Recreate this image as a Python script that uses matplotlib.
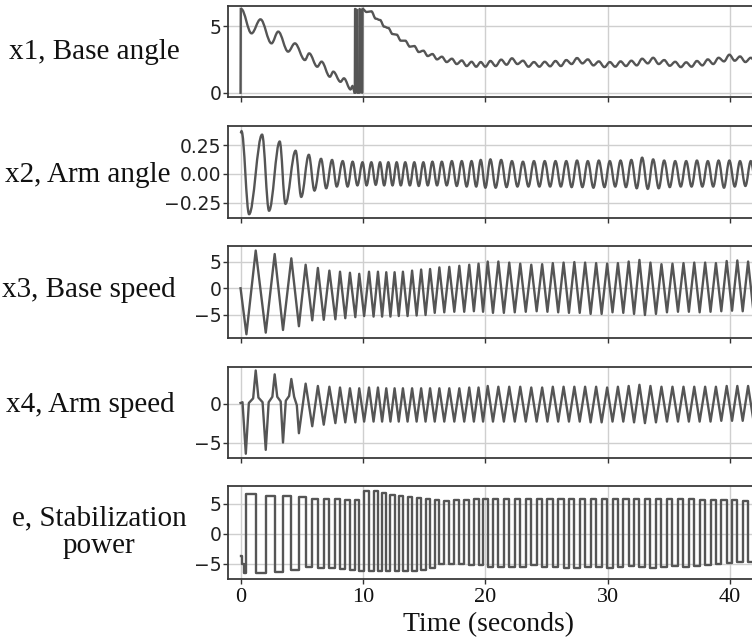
import numpy as np
import matplotlib
matplotlib.use("Agg")
import matplotlib.pyplot as plt
from matplotlib.path import Path
from matplotlib.patches import PathPatch

# turning points, (time s, value)
X1_A = [(0.05, 6.28), (0.90, 4.45), (1.63, 5.50), (2.53, 3.70), (3.08, 4.58), (3.89, 3.08),
        (4.44, 3.70), (5.26, 2.45), (5.61, 2.95), (6.27, 1.95), (6.62, 2.33), (7.30, 1.20),
        (7.58, 1.58), (8.17, 0.82), (8.45, 1.08), (8.99, 0.25), (9.15, 0.50), (9.34, 0.00)]
X1_WRAP = [(0.00, 0.00), (0.02, 6.28), None,
           (9.34, 0.00), (9.36, 6.28), (9.52, 6.20), (9.53, 0.00), (9.72, 0.00), (9.73, 6.28),
           (9.82, 6.15), (9.83, 0.05), (9.95, 0.00), (9.97, 6.28)]
X1_B = [(9.97, 6.28), (10.30, 6.05), (10.69, 6.10), (11.05, 5.55), (11.40, 5.45), (11.74, 4.95),
        (12.08, 4.85), (12.42, 4.40), (12.76, 4.35), (13.10, 3.90), (13.46, 3.90), (13.84, 3.45),
        (14.20, 3.50), (14.57, 3.05), (14.94, 3.15), (15.30, 2.75), (15.68, 2.90), (16.06, 2.50),
        (16.45, 2.70), (16.85, 2.30), (17.27, 2.55), (17.67, 2.15), (18.08, 2.42), (18.48, 2.00),
        (18.88, 2.32), (19.26, 1.95), (19.63, 2.30), (20.01, 1.95), (20.42, 2.38), (20.85, 2.00),
        (21.30, 2.48), (21.74, 2.10), (22.18, 2.58), (22.63, 2.15), (23.08, 2.40), (23.53, 1.95),
        (23.98, 2.30), (24.42, 1.95), (24.86, 2.32), (25.30, 1.98), (25.74, 2.38), (26.18, 2.00),
        (26.62, 2.45), (27.06, 2.15), (27.50, 2.60), (27.94, 2.20), (28.38, 2.50), (28.84, 2.05),
        (29.28, 2.35), (29.74, 1.92), (30.18, 2.30), (30.62, 1.95), (31.06, 2.35), (31.50, 2.00),
        (31.94, 2.40), (32.38, 2.05), (32.82, 2.55), (33.28, 2.20), (33.72, 2.62), (34.18, 2.15),
        (34.62, 2.45), (35.08, 2.02), (35.52, 2.32), (35.98, 1.92), (36.42, 2.28), (36.86, 1.95),
        (37.30, 2.38), (37.74, 2.05), (38.19, 2.50), (38.63, 2.15), (39.07, 2.62), (39.51, 2.35),
        (39.95, 2.85), (40.39, 2.40), (40.82, 2.72), (41.26, 2.30), (41.70, 2.62), (42.14, 2.25),
        (42.58, 2.55), (43.02, 2.20)]

X2 = [(0.00, 0.35), (0.08, 0.37), (0.70, -0.35), (1.76, 0.34), (2.33, -0.32), (3.20, 0.28),
      (3.67, -0.26), (4.50, 0.20), (4.96, -0.20), (5.58, 0.165), (6.04, -0.145), (6.58, 0.13),
      (7.00, -0.125), (7.48, 0.12), (7.86, -0.11), (8.35, 0.11), (8.75, -0.11), (9.16, 0.105),
      (9.55, -0.10), (9.97, 0.10), (10.30, -0.10), (10.69, 0.10), (11.05, -0.095), (11.40, 0.10),
      (11.74, -0.10), (12.08, 0.10), (12.42, -0.10), (12.76, 0.10), (13.10, -0.10), (13.46, 0.10),
      (13.84, -0.10), (14.20, 0.10), (14.57, -0.105), (14.94, 0.10), (15.30, -0.10), (15.68, 0.105),
      (16.06, -0.10), (16.45, 0.105), (16.85, -0.10), (17.27, 0.11), (17.67, -0.105), (18.08, 0.11),
      (18.48, -0.11), (18.88, 0.11), (19.26, -0.11), (19.63, 0.12), (20.01, -0.12), (20.42, 0.125),
      (20.85, -0.12), (21.30, 0.12), (21.74, -0.115), (22.18, 0.11), (22.63, -0.11), (23.08, 0.105),
      (23.53, -0.11), (23.98, 0.11), (24.42, -0.11), (24.86, 0.11), (25.30, -0.11), (25.74, 0.11),
      (26.18, -0.11), (26.62, 0.11), (27.06, -0.115), (27.50, 0.115), (27.94, -0.115), (28.38, 0.11),
      (28.84, -0.12), (29.28, 0.115), (29.74, -0.115), (30.18, 0.11), (30.62, -0.11), (31.06, 0.115),
      (31.50, -0.115), (31.94, 0.12), (32.38, -0.125), (32.82, 0.14), (33.28, -0.13), (33.72, 0.125),
      (34.18, -0.125), (34.62, 0.115), (35.08, -0.115), (35.52, 0.11), (35.98, -0.11), (36.42, 0.11),
      (36.86, -0.11), (37.30, 0.115), (37.74, -0.11), (38.19, 0.11), (38.63, -0.11), (39.07, 0.115),
      (39.51, -0.12), (39.95, 0.115), (40.39, -0.11), (40.82, 0.11), (41.26, -0.105), (41.70, 0.11),
      (42.14, -0.11), (42.58, 0.11), (43.02, -0.11)]

X3 = [(0.00, 0.0), (0.48, -8.6), (1.24, 7.05), (2.06, -8.3), (2.79, 6.4), (3.47, -7.8), (4.15, 5.6),
      (4.77, -7.1), (5.32, 4.4), (5.86, -6.0), (6.32, 3.8), (6.80, -5.9), (7.26, 3.3), (7.75, -5.8),
      (8.13, 3.1), (8.56, -5.6), (8.94, 2.9), (9.38, -5.4), (9.70, 2.7), (10.10, -5.2), (10.50, 3.1),
      (10.87, -5.3), (11.23, 3.1), (11.57, -5.3), (11.91, 3.0), (12.25, -5.3), (12.59, 3.0),
      (12.93, -5.2), (13.27, 3.1), (13.65, -5.2), (14.02, 3.3), (14.39, -5.1), (14.76, 3.5),
      (15.12, -5.0), (15.49, 3.6), (15.87, -4.6), (16.25, 3.9), (16.65, -4.5), (17.06, 4.0),
      (17.47, -4.4), (17.88, 4.2), (18.28, -4.4), (18.69, 4.4), (19.07, -4.3), (19.45, 4.6),
      (19.82, -4.4), (20.20, 5.0), (20.63, -4.6), (21.07, 5.0), (21.52, -4.6), (21.96, 4.8),
      (22.41, -4.5), (22.86, 4.6), (23.31, -4.4), (23.76, 4.4), (24.20, -4.3), (24.65, 4.5),
      (25.08, -4.4), (25.52, 4.7), (25.96, -4.5), (26.40, 4.8), (26.84, -4.6), (27.28, 4.9),
      (27.72, -4.6), (28.16, 4.8), (28.61, -4.8), (29.06, 4.7), (29.51, -4.8), (29.96, 4.6),
      (30.40, -4.5), (30.84, 4.7), (31.28, -4.6), (31.72, 5.0), (32.16, -4.8), (32.60, 5.3),
      (33.05, -5.0), (33.50, 4.8), (33.95, -4.8), (34.40, 4.5), (34.85, -4.5), (35.30, 4.6),
      (35.75, -4.4), (36.20, 4.7), (36.64, -4.4), (37.08, 4.8), (37.52, -4.5), (37.97, 4.8),
      (38.41, -4.4), (38.85, 4.7), (39.29, -4.3), (39.73, 5.1), (40.17, -4.2), (40.60, 5.2),
      (41.04, -4.3), (41.48, 5.0), (41.92, -4.4), (42.36, 4.8), (42.80, -4.4), (43.24, 4.8)]

X4 = [(0.00, 0.1), (0.16, 0.2), (0.43, -6.45), (0.68, 0.1), (1.03, 0.7), (1.24, 4.3), (1.46, 0.8),
      (1.80, 0.2), (2.06, -5.95), (2.30, 0.2), (2.60, 0.9), (2.79, 3.8), (3.00, 0.9), (3.28, 0.3),
      (3.47, -5.0), (3.70, 0.4), (3.97, 1.0), (4.15, 3.2), (4.38, 0.9), (4.60, -0.2), (4.77, -3.8),
      (5.32, 2.6), (5.86, -2.9), (6.32, 2.3), (6.80, -2.7), (7.26, 2.2), (7.75, -2.5), (8.13, 2.1),
      (8.56, -2.4), (8.94, 2.0), (9.38, -2.4), (9.70, 2.0), (10.10, -2.3), (10.50, 2.1),
      (10.87, -2.3), (11.23, 2.1), (11.57, -2.3), (11.91, 2.0), (12.25, -2.3), (12.59, 2.0),
      (12.93, -2.3), (13.27, 2.0), (13.65, -2.3), (14.02, 2.0), (14.39, -2.3), (14.76, 2.0),
      (15.12, -2.3), (15.49, 2.0), (15.87, -2.3), (16.25, 2.0), (16.65, -2.3), (17.06, 2.0),
      (17.47, -2.3), (17.88, 2.0), (18.28, -2.3), (18.69, 2.1), (19.07, -2.3), (19.45, 2.1),
      (19.82, -2.3), (20.20, 2.3), (20.63, -2.3), (21.07, 2.2), (21.52, -2.3), (21.96, 2.2),
      (22.41, -2.3), (22.86, 2.2), (23.31, -2.3), (23.76, 2.1), (24.20, -2.3), (24.65, 2.1),
      (25.08, -2.3), (25.52, 2.2), (25.96, -2.3), (26.40, 2.2), (26.84, -2.3), (27.28, 2.2),
      (27.72, -2.3), (28.16, 2.2), (28.61, -2.4), (29.06, 2.2), (29.51, -2.4), (29.96, 2.1),
      (30.40, -2.3), (30.84, 2.2), (31.28, -2.3), (31.72, 2.3), (32.16, -2.4), (32.60, 2.45),
      (33.05, -2.5), (33.50, 2.3), (33.95, -2.4), (34.40, 2.2), (34.85, -2.3), (35.30, 2.2),
      (35.75, -2.3), (36.20, 2.2), (36.64, -2.3), (37.08, 2.2), (37.52, -2.3), (37.97, 2.2),
      (38.41, -2.3), (38.85, 2.2), (39.29, -2.2), (39.73, 2.3), (40.17, -2.2), (40.60, 2.3),
      (41.04, -2.2), (41.48, 2.3), (41.92, -2.2), (42.36, 2.2), (42.80, -2.2), (43.24, 2.2)]

# e switches level (time, level after the switch)
E = [(0.00, -3.8), (0.10, -5.0), (0.28, -6.6), (0.48, 6.6), (1.24, -6.5), (2.06, 6.4), (2.79, -6.4),
     (3.47, 6.3), (4.15, -6.1), (4.77, 6.1), (5.32, -5.6), (5.86, 5.9), (6.32, -5.8), (6.80, 5.8),
     (7.26, -5.8), (7.75, 5.8), (8.13, -5.9), (8.56, 5.7), (8.94, -6.0), (9.38, 5.6), (9.70, -6.3),
     (10.10, 7.2), (10.50, -6.3), (10.87, 7.1), (11.23, -6.3), (11.57, 6.8), (11.91, -6.3),
     (12.25, 6.5), (12.59, -6.3), (12.93, 6.3), (13.27, -6.2), (13.65, 6.2), (14.02, -6.2),
     (14.39, 6.0), (14.76, -6.0), (15.12, 5.9), (15.49, -5.8), (15.87, 5.6), (16.25, -5.0),
     (16.65, 5.5), (17.06, -5.1), (17.47, 5.6), (17.88, -5.0), (18.28, 5.7), (18.69, -5.2),
     (19.07, 5.8), (19.45, -5.3), (19.82, 5.8), (20.20, -5.5), (20.63, 5.9), (21.07, -5.6),
     (21.52, 5.9), (21.96, -5.6), (22.41, 5.9), (22.86, -5.5), (23.31, 5.8), (23.76, -5.3),
     (24.20, 5.8), (24.65, -5.5), (25.08, 5.8), (25.52, -5.6), (25.96, 5.9), (26.40, -5.7),
     (26.84, 5.9), (27.28, -5.8), (27.72, 5.9), (28.16, -5.6), (28.61, 5.9), (29.06, -5.5),
     (29.51, 5.8), (29.96, -5.7), (30.40, 5.8), (30.84, -5.6), (31.28, 5.8), (31.72, -5.4),
     (32.16, 5.9), (32.60, -5.6), (33.05, 5.9), (33.50, -5.7), (33.95, 5.9), (34.40, -5.5),
     (34.85, 5.8), (35.30, -5.4), (35.75, 5.8), (36.20, -5.5), (36.64, 5.8), (37.08, -5.4),
     (37.52, 5.7), (37.97, -5.3), (38.41, 5.7), (38.85, -5.1), (39.29, 5.6), (39.73, -4.9),
     (40.17, 5.6), (40.60, -4.7), (41.04, 5.5), (41.48, -4.8), (41.92, 5.5), (42.36, -4.8),
     (42.80, 5.5), (43.24, -4.8)]

LABELS = ["x1, Base angle", "x2, Arm angle", "x3, Base speed", "x4, Arm speed",
          "e, Stabilization\npower"]
YTICKS = [[0, 5], [-0.25, 0.0, 0.25], [-5, 0, 5], [-5, 0], [-5, 0, 5]]
YLIMS = [(-0.32, 6.5), (-0.383, 0.415), (-9.3, 7.9), (-7.0, 4.75), (-7.5, 8.0)]

# layout (figure fractions, measured on the reference)
BOTTOMS = [0.8477, 0.6578, 0.4694, 0.2810, 0.0918]
HEIGHTS = [0.1429, 0.1444, 0.1444, 0.1429, 0.1452]
LAB_X = [-0.248, -0.259, -0.257, -0.255, -0.239]
LAB_Y = [0.5, 0.47, 0.52, 0.58, 0.5]

LC = "#555555"
SERIF = "Liberation Serif"


def smooth(ax, pts):
    # cubic pieces with flat tangents at every turning point
    t, v = np.array(pts).T
    verts, codes = [(t[0], v[0])], [Path.MOVETO]
    for i in range(1, len(t)):
        d = (t[i] - t[i - 1]) * 0.364
        verts += [(t[i - 1] + d, v[i - 1]), (t[i] - d, v[i]), (t[i], v[i])]
        codes += [Path.CURVE4] * 3
    ax.add_patch(PathPatch(Path(verts, codes), fill=False, ec=LC, lw=1.7, zorder=3))


fig = plt.figure(figsize=(7.52, 6.37), dpi=100)
axes = [fig.add_axes([0.3036, b, 0.72, h]) for b, h in zip(BOTTOMS, HEIGHTS)]

# x1
smooth(axes[0], X1_A)
smooth(axes[0], X1_B)
wt = [np.nan if p is None else p[0] for p in X1_WRAP]
wv = [np.nan if p is None else p[1] for p in X1_WRAP]
axes[0].plot(wt, wv, color=LC, lw=1.7, zorder=3)
# x2
smooth(axes[1], X2)
# x3, x4
for ax, pts in ((axes[2], X3), (axes[3], X4)):
    t, v = np.array(pts).T
    ax.plot(t, v, color=LC, lw=1.7, zorder=3)
# e
et, ev = np.array(E).T
axes[4].step(et, ev, where="post", color=LC, lw=1.7, zorder=3)

for i, ax in enumerate(axes):
    ax.set_xlim(-1.0, 43.25)
    ax.set_ylim(*YLIMS[i])
    ax.set_xticks([0, 10, 20, 30, 40])
    ax.set_yticks(YTICKS[i])
    if i == 1:
        ax.set_yticklabels(["\u22120.25", "0.00", "0.25"])
    ax.grid(True, color="#cfcfcf", lw=1.0, zorder=0)
    ax.tick_params(axis="both", length=3.5, width=1.0, color="#333333", pad=1.5)
    ax.tick_params(axis="y", labelsize=13.5, labelcolor="#222222")
    for sp in ax.spines.values():
        sp.set_color("#3a3a3a")
        sp.set_linewidth(1.3)
    ax.set_ylabel(LABELS[i], rotation=0, fontsize=21, family=SERIF, ha="center",
                  va="center", multialignment="center", color="#111111", linespacing=1.05)
    ax.yaxis.set_label_coords(LAB_X[i], LAB_Y[i])
    if i < 4:
        ax.tick_params(axis="x", labelbottom=False)

bot = axes[4]
bot.tick_params(axis="x", labelsize=16, pad=3)
for lab in bot.get_xticklabels():
    lab.set_family(SERIF)
    lab.set_color("#111111")
bot.set_xlabel("Time (seconds)", fontsize=20, family=SERIF, va="center", color="#111111")
bot.xaxis.set_label_coords(0.481, -0.5)

fig.savefig("out.png", dpi=100)
